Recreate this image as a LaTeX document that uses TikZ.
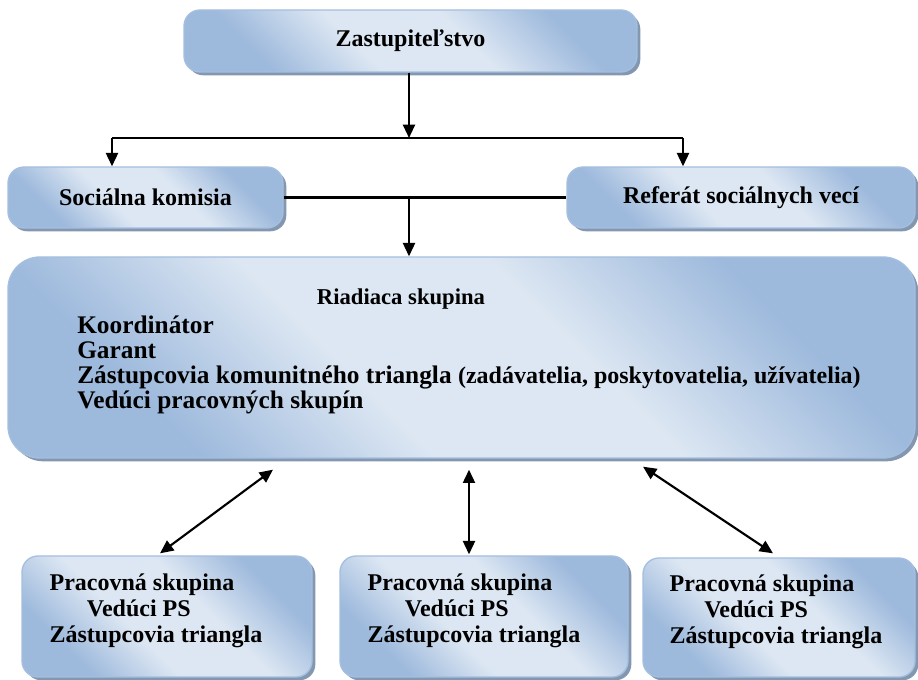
\documentclass[tikz,border=0pt]{standalone}
\usepackage{fontspec}
\setmainfont{Liberation Serif}
\usetikzlibrary{positioning,shadows,arrows.meta}

\definecolor{boxlight}{HTML}{DDE7F3}
\definecolor{boxdark}{HTML}{9DB9DC}
\definecolor{boxline}{HTML}{A4BFDF}
\definecolor{boxshadow}{HTML}{8497B0}
\pgfdeclareverticalshading{boxshade}{100bp}{color(0bp)=(boxdark); color(27bp)=(boxdark);
    color(42bp)=(boxlight); color(58bp)=(boxlight); color(73bp)=(boxdark); color(100bp)=(boxdark)}

\begin{document}
\begin{tikzpicture}[x=0.75pt, y=-0.75pt,
    box/.style={draw=boxline, line width=1pt, rounded corners=12pt,
        shading=boxshade, shading angle=-45,
        drop shadow={shadow xshift=2.5pt, shadow yshift=-2.5pt, fill=boxshadow, opacity=1},
        inner sep=0pt, font=\fontsize{18}{19.5}\selectfont\bfseries},
    txt/.style={inner sep=0pt, align=left, font=\fontsize{18}{19.5}\selectfont\bfseries},
    big/.style={inner sep=0pt, anchor=west, text height=12pt, text depth=4pt,
        font=\fontsize{19}{19}\selectfont\bfseries},
    arr/.style={line width=1.6pt, -{Triangle[length=10pt, width=9pt]}},
    dbl/.style={line width=1.6pt, {Triangle[length=10pt, width=9pt]}-{Triangle[length=10pt, width=9pt]}},
    plain/.style={line width=1.6pt}]
\useasboundingbox (0,0) rectangle (918,680);

% top level
\node (zast) [box, minimum width=453*0.75pt, minimum height=62*0.75pt] at (410.5,41) {Zastupiteľstvo};
\node (soc) [box, minimum width=275*0.75pt, minimum height=61*0.75pt] at (145.5,197.5) {Sociálna komisia};
\node (ref) [box, minimum width=348*0.75pt, minimum height=61*0.75pt] at (741,197.5) {Referát sociálnych vecí};

% steering group
\node (riad) [box, rounded corners=24pt, minimum width=907*0.75pt, minimum height=201*0.75pt] at (461.5,357.5) {};
\node (riadT) [txt, font=\fontsize{17}{19}\selectfont\bfseries] at (401,299) {Riadiaca skupina};
\node (koord) [big] at (77,328) {Koordinátor};
\node (garant) [big] at (77,353) {Garant};
\node (zast3) [big] at (77,378) {Zástupcovia komunitného triangla {\fontsize{18}{18}\selectfont(zadávatelia, poskytovatelia, užívatelia)}};
\node (vedPS) [big] at (77,403) {Vedúci pracovných skupín};

% working groups
\node (ps1) [box, minimum width=290*0.75pt, minimum height=121*0.75pt] at (167,616.5) {};
\node (ps2) [box, minimum width=288*0.75pt, minimum height=121*0.75pt] at (484,616.5) {};
\node (ps3) [box, minimum width=272*0.75pt, minimum height=119*0.75pt] at (779,617.5) {};
\node (ps1T) [txt, anchor=west] at ([shift={(28,-5.5)}]ps1.west) {Pracovná skupina\\\hspace*{28pt}Vedúci PS\\Zástupcovia triangla};
\node (ps2T) [txt, anchor=west] at ([shift={(28,-5.5)}]ps2.west) {Pracovná skupina\\\hspace*{28pt}Vedúci PS\\Zástupcovia triangla};
\node (ps3T) [txt, anchor=west] at ([shift={(27,-5.5)}]ps3.west) {Pracovná skupina\\\hspace*{26pt}Vedúci PS\\Zástupcovia triangla};

% connectors
\coordinate (split) at (409,138);
\coordinate (kl) at (112,138);
\coordinate (kr) at (683,138);
\coordinate (mid) at (409,197.5);
\draw[arr] (zast.south -| split) -- (split);
\draw[plain] (kl) -- (kr);
\draw[arr] (kl) -- (kl |- soc.north);
\draw[arr] (kr) -- (kr |- ref.north);
\draw[plain] (soc.east) -- (ref.west);
\draw[arr] (mid) -- (mid |- riad.north);

\draw[dbl] ([shift={(-7,-2)}]ps1.north) -- ([shift={(-188.5,11)}]riad.south);
\draw[dbl] ([shift={(-15,-1)}]ps2.north) -- ([shift={(7.5,11)}]riad.south);
\draw[dbl] ([shift={(-6,-4)}]ps3.north) -- ([shift={(181.5,8)}]riad.south);
\end{tikzpicture}
\end{document}
